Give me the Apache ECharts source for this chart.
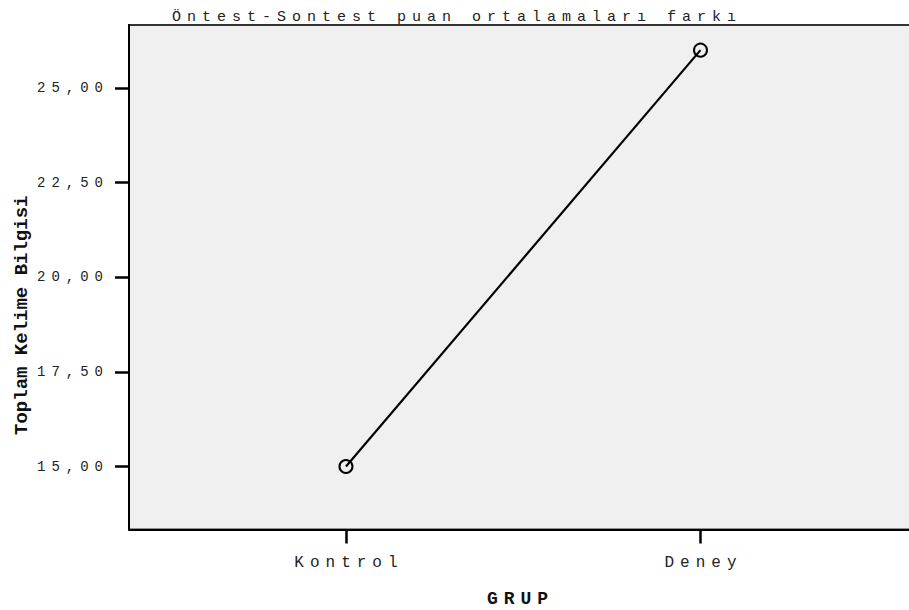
<!DOCTYPE html>
<html>
<head>
<meta charset="utf-8">
<script src="https://cdn.jsdelivr.net/npm/echarts@6/dist/echarts.min.js"></script>
<style>
html,body{margin:0;padding:0;background:#fff;}
#chart{width:909px;height:610px;}
#chart text{letter-spacing:6px;}
#chart text[style*="19px"]{letter-spacing:0px;}
#chart text[style*="18px"]{letter-spacing:6px;}
</style>
</head>
<body>
<div id="chart"></div>
<script>
const titleText = "Öntest-Sontest puan ortalamaları farkı";
const yAxisName = "Toplam Kelime Bilgisi";
const xAxisName = "GRUP";
const groups = ["Kontrol", "Deney"];
const means = [15.00, 26.00];
const yTicks = [15, 17.5, 20, 22.5, 25];
const yMin = 13.336, yMax = 26.664;

const chart = echarts.init(document.getElementById('chart'), null, {renderer: 'svg'});
const mono = 'Liberation Mono';
chart.setOption({
  animation: false,
  backgroundColor: '#ffffff',
  title: {
    text: titleText,
    left: 167, top: 5,
    textStyle: {fontFamily: mono, fontSize: 15, fontWeight: 'normal', color: '#222'}
  },
  grid: {
    left: 129, right: -3, top: 25, bottom: 80.5,
    outerBoundsMode: 'none', containLabel: false,
    show: true, backgroundColor: '#f0f0f0', borderColor: '#333', borderWidth: 2
  },
  xAxis: {
    type: 'value',
    min: -0.612, max: 1.5966,
    name: xAxisName, nameLocation: 'middle', nameGap: 60,
    nameTextStyle: {fontFamily: mono, fontSize: 18, fontWeight: 'bold', color: '#111'},
    axisLine: {onZero: false, lineStyle: {color: '#000', width: 2}},
    axisTick: {show: true, length: 14, lineStyle: {color: '#000', width: 2.5}, customValues: [0, 1]},
    axisLabel: {
      customValues: [0, 1], margin: 25, padding: [0, 0, 0, 6],
      formatter: v => groups[Math.round(v)],
      fontFamily: mono, fontSize: 16, color: '#222'
    },
    splitLine: {show: false}
  },
  yAxis: {
    type: 'value',
    min: yMin, max: yMax,
    name: yAxisName, nameLocation: 'middle', nameGap: 98, nameRotate: 90,
    nameTextStyle: {fontFamily: mono, fontSize: 19, fontWeight: 'bold', color: '#111', padding: [0, 76, 0, 0]},
    axisLine: {show: true, onZero: false, lineStyle: {color: '#000', width: 2}},
    axisTick: {show: true, length: 14, lineStyle: {color: '#000', width: 2.5}, customValues: yTicks},
    axisLabel: {
      customValues: yTicks, margin: 20,
      formatter: v => v.toFixed(2).replace('.', ','),
      fontFamily: mono, fontSize: 14, color: '#222'
    },
    splitLine: {show: false}
  },
  series: [{
    type: 'line',
    data: means.map((m, i) => [i, m]),
    symbol: 'circle', symbolSize: 13,
    itemStyle: {color: 'rgba(0,0,0,0)', borderColor: '#000', borderWidth: 2},
    lineStyle: {color: '#000', width: 2.2}
  }]
});
</script>
</body>
</html>
